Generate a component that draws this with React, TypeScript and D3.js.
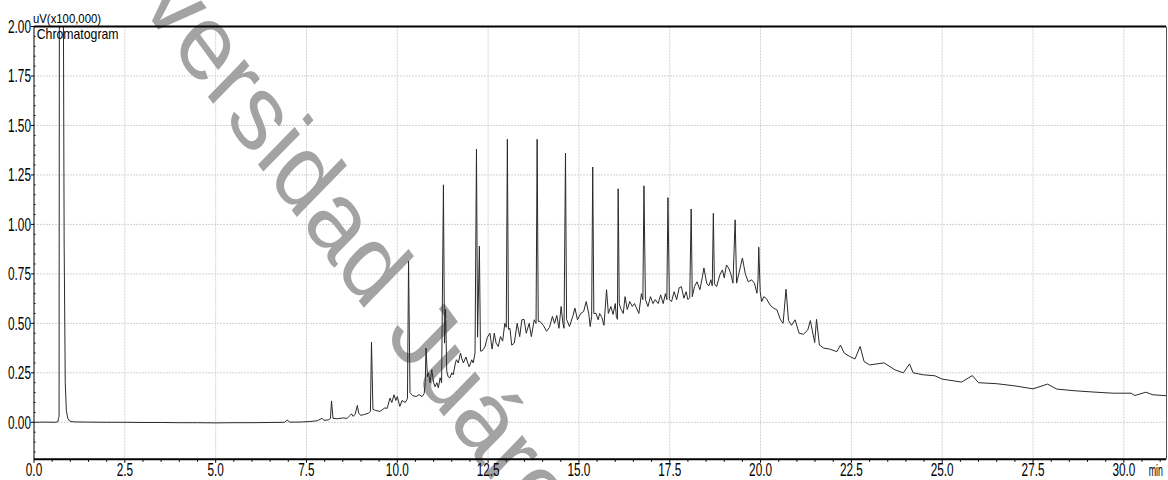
import React from 'react';
import * as d3 from 'd3';

// chart size and plot frame (pixels)
const W = 1168;
const H = 480;
const plot = { left: 34, right: 1166, top: 26.5, bottom: 459.3 };

// axis ticks
const xTickValues = [0, 2.5, 5, 7.5, 10, 12.5, 15, 17.5, 20, 22.5, 25, 27.5, 30];
const yTickValues = [0, 0.25, 0.5, 0.75, 1.0, 1.25, 1.5, 1.75, 2.0];
const xDomain: [number, number] = [0, 31.16];
const yDomain: [number, number] = [-0.187, 2.0];

// trace: [retention time (min), signal (uV x100,000)]
const solventFront: [number, number][] = [
  [0.0, 0.0], [0.3, 0.001], [0.6, 0.0], [0.66, 0.004], [0.675, 0.02], [0.69, 0.03],
  [0.7, 2.6], [0.8, 2.6], [0.83, 0.9], [0.86, 0.2], [0.89, 0.06], [0.93, 0.02],
  [0.98, 0.006], [1.1, 0.002], [1.5, 0.001], [2.0, 0.0], [2.5, 0.0], [3.0, -0.001],
  [3.5, -0.001], [4.0, -0.002], [4.5, -0.002], [5.0, -0.003], [5.5, -0.002], [6.0, -0.002],
  [6.5, -0.001], [6.9, 0.0], [6.97, 0.012], [7.03, 0.001], [7.3, 0.001], [7.6, 0.004],
  [7.8, 0.008], [7.93, 0.02], [7.98, 0.01],
];

const earlyPeaks: [number, number][] = [
  [8.1, 0.012], [8.16, 0.02], [8.19, 0.108], [8.23, 0.02], [8.35, 0.018], [8.5, 0.022],
  [8.62, 0.02], [8.7, 0.035], [8.74, 0.043], [8.78, 0.03], [8.84, 0.04], [8.9, 0.085],
  [8.94, 0.045], [9.0, 0.035], [9.1, 0.04], [9.2, 0.045], [9.26, 0.055], [9.29, 0.405],
  [9.33, 0.065], [9.4, 0.06], [9.52, 0.055], [9.6, 0.065], [9.66, 0.073], [9.72, 0.07],
  [9.8, 0.122], [9.85, 0.1], [9.91, 0.139], [9.96, 0.11], [10.0, 0.13], [10.07, 0.08],
  [10.13, 0.11], [10.22, 0.1], [10.28, 0.12], [10.31, 0.815], [10.35, 0.15], [10.42, 0.135],
  [10.52, 0.13], [10.6, 0.14], [10.68, 0.13], [10.74, 0.145], [10.77, 0.2], [10.79, 0.375],
  [10.83, 0.23], [10.86, 0.25], [10.9, 0.2], [10.95, 0.265], [11.0, 0.2], [11.04, 0.18],
  [11.09, 0.2], [11.13, 0.174], [11.18, 0.225], [11.22, 0.2], [11.27, 1.2], [11.3, 0.4],
  [11.33, 0.57], [11.36, 0.26], [11.4, 0.23], [11.45, 0.225], [11.5, 0.25], [11.54, 0.24],
  [11.6, 0.3], [11.63, 0.316], [11.68, 0.3], [11.74, 0.35], [11.78, 0.32], [11.82, 0.3],
  [11.89, 0.33], [11.94, 0.3], [11.98, 0.28], [12.05, 0.316], [12.09, 0.3], [12.14, 0.35],
  [12.18, 1.38], [12.21, 0.43], [12.26, 0.89], [12.29, 0.36], [12.33, 0.36], [12.41, 0.38],
  [12.48, 0.43], [12.55, 0.45], [12.61, 0.37], [12.67, 0.45], [12.72, 0.4], [12.78, 0.383],
  [12.84, 0.433], [12.9, 0.41], [12.96, 0.5], [13.0, 0.48],
];

const midPeaks: [number, number][] = [
  [13.03, 1.43], [13.06, 0.47], [13.1, 0.475], [13.15, 0.39], [13.22, 0.4], [13.3, 0.5],
  [13.37, 0.433], [13.43, 0.518], [13.49, 0.52], [13.55, 0.45], [13.63, 0.5], [13.69, 0.433],
  [13.77, 0.518], [13.82, 0.5], [13.85, 1.43], [13.88, 0.51], [13.93, 0.51], [14.02, 0.49],
  [14.11, 0.46], [14.19, 0.48], [14.27, 0.535], [14.33, 0.5], [14.39, 0.54], [14.45, 0.475],
  [14.51, 0.585], [14.56, 0.5], [14.59, 0.475], [14.63, 1.36], [14.66, 0.52], [14.74, 0.484],
  [14.83, 0.535], [14.89, 0.577], [14.96, 0.518], [15.05, 0.55], [15.13, 0.56], [15.2, 0.61],
  [15.27, 0.55], [15.31, 0.484], [15.35, 0.535], [15.38, 1.29], [15.41, 0.55], [15.47, 0.55],
  [15.53, 0.518], [15.57, 0.55], [15.63, 0.53], [15.69, 0.49], [15.76, 0.67], [15.81, 0.55],
  [15.88, 0.585], [15.94, 0.545], [16.0, 0.6], [16.03, 0.535], [16.06, 0.52], [16.08, 1.18],
  [16.11, 0.6], [16.15, 0.575], [16.22, 0.55], [16.27, 0.635], [16.33, 0.57], [16.4, 0.61],
  [16.47, 0.585], [16.53, 0.6], [16.65, 0.55], [16.72, 0.65], [16.76, 0.62], [16.79, 1.195],
  [16.83, 0.62], [16.9, 0.585], [16.97, 0.635], [17.04, 0.6], [17.1, 0.62], [17.18, 0.6],
  [17.25, 0.644], [17.32, 0.6], [17.38, 0.65], [17.42, 0.62], [17.45, 1.135], [17.49, 0.62],
];

const latePeaks: [number, number][] = [
  [17.55, 0.61], [17.62, 0.66], [17.69, 0.62], [17.76, 0.68], [17.82, 0.685], [17.89, 0.627],
  [17.95, 0.66], [18.0, 0.62], [18.05, 0.63], [18.09, 1.078], [18.12, 0.635], [18.18, 0.685],
  [18.25, 0.71], [18.33, 0.67], [18.4, 0.736], [18.44, 0.78], [18.52, 0.7], [18.58, 0.69],
  [18.63, 0.72], [18.67, 0.69], [18.7, 1.056], [18.73, 0.7], [18.79, 0.686], [18.88, 0.745],
  [18.95, 0.77], [19.0, 0.73], [19.06, 0.795], [19.12, 0.78], [19.18, 0.75], [19.24, 0.703],
  [19.3, 1.023], [19.34, 0.703], [19.4, 0.75], [19.5, 0.83], [19.58, 0.75], [19.66, 0.71],
  [19.75, 0.72], [19.83, 0.703], [19.9, 0.652], [19.93, 0.72], [19.95, 0.885], [19.99, 0.66],
  [20.03, 0.61], [20.09, 0.635], [20.16, 0.625], [20.26, 0.593], [20.35, 0.578], [20.45, 0.568],
  [20.55, 0.518], [20.62, 0.5], [20.7, 0.672], [20.77, 0.514], [20.85, 0.49], [20.95, 0.518],
  [21.06, 0.45], [21.18, 0.445], [21.3, 0.467], [21.37, 0.514], [21.49, 0.403], [21.54, 0.52],
  [21.62, 0.39],
];

const tailTrace: [number, number][] = [
  [21.74, 0.375], [21.9, 0.37], [22.1, 0.357], [22.2, 0.39], [22.3, 0.35], [22.45, 0.333],
  [22.6, 0.32], [22.74, 0.383], [22.85, 0.307], [23.0, 0.29], [23.2, 0.295], [23.4, 0.3],
  [23.7, 0.265], [23.93, 0.25], [24.1, 0.295], [24.2, 0.25], [24.48, 0.24], [24.8, 0.235],
  [25.0, 0.218], [25.3, 0.21], [25.53, 0.203], [25.83, 0.236], [26.0, 0.2], [26.5, 0.195],
  [27.0, 0.184], [27.5, 0.169], [27.9, 0.193], [28.15, 0.168], [28.6, 0.16], [29.15, 0.153],
  [29.7, 0.147], [30.2, 0.147], [30.3, 0.135], [30.6, 0.152], [30.8, 0.139], [31.2, 0.134],
];

const trace = [...solventFront, ...earlyPeaks, ...midPeaks, ...latePeaks, ...tailTrace];

const font = "'Liberation Sans', Arial, sans-serif";

// narrow text: natural font squeezed horizontally
const Narrow = ({ x, y, sx, size, anchor = 'start', children }: any) => (
  <text
    transform={`translate(${x},${y}) scale(${sx},1)`}
    fontFamily={font}
    fontSize={size}
    textAnchor={anchor}
    fill="#000"
  >
    {children}
  </text>
);

export default function App() {
  const x = d3.scaleLinear().domain(xDomain).range([plot.left, plot.right]);
  const y = d3.scaleLinear().domain(yDomain).range([plot.bottom, plot.top]);

  const line = d3.line<[number, number]>()
    .x(d => x(d[0]))
    .y(d => y(d[1]));

  const xMinor = d3.range(0, 31.01, 0.5);
  const yMinor = d3.range(-0.15, 2.001, 0.05);

  return (
    <svg width={W} height={H} style={{ position: 'absolute', left: 0, top: 0, background: '#fff' }}>
      <defs>
        <clipPath id="plot-clip">
          <rect x={plot.left} y={plot.top} width={plot.right - plot.left} height={plot.bottom - plot.top} />
        </clipPath>
      </defs>

      {/* grid */}
      <g stroke="#d2d2d2" strokeWidth={1} strokeDasharray="2,1">
        {xTickValues.filter(v => v > 0).map(v => (
          <line key={'gx' + v} x1={x(v)} x2={x(v)} y1={plot.top} y2={plot.bottom} />
        ))}
        {yTickValues.filter(v => v < 2).map(v => (
          <line key={'gy' + v} x1={plot.left} x2={plot.right} y1={y(v)} y2={y(v)} />
        ))}
      </g>

      {/* watermark, spills over the frame like the scanned original */}
      <text
        transform="translate(49.8,-117.3) scale(0.85,1) rotate(49)"
        fontFamily={font}
        fontSize={108}
        fill="#a3a3a3"
      >
        Universidad Juárez
      </text>

      {/* chromatogram */}
      <path
        d={line(trace) ?? ''}
        fill="none"
        stroke="#2a2a2a"
        strokeWidth={1}
        clipPath="url(#plot-clip)"
      />

      {/* frame */}
      <line x1={plot.left} x2={plot.right} y1={plot.top} y2={plot.top} stroke="#000" strokeWidth={2} />
      <line x1={plot.left} x2={plot.right} y1={plot.bottom} y2={plot.bottom} stroke="#000" strokeWidth={2} />
      <line x1={plot.left} x2={plot.left} y1={plot.top} y2={plot.bottom} stroke="#000" strokeWidth={1} />
      <line x1={plot.right + 0.5} x2={plot.right + 0.5} y1={plot.top} y2={plot.bottom} stroke="#555" strokeWidth={1} />

      {/* ticks */}
      <g stroke="#000" strokeWidth={1}>
        {xMinor.map(v => (
          <line key={'xm' + v} x1={x(v)} x2={x(v)} y1={plot.bottom} y2={plot.bottom + (v % 2.5 === 0 ? 3.5 : 2.5)} />
        ))}
        {yMinor.map(v => {
          const major = Math.abs(v / 0.25 - Math.round(v / 0.25)) < 1e-6;
          return (
            <line key={'ym' + v} x1={plot.left - (major ? 3 : 0)} x2={plot.left + (major ? 0 : 1.5)} y1={y(v)} y2={y(v)} />
          );
        })}
      </g>

      {/* y tick labels */}
      {yTickValues.map(v => (
        <Narrow key={'yl' + v} x={plot.left - 3} y={y(v) + 6.5} sx={0.657} size={18} anchor="end">
          {v.toFixed(2)}
        </Narrow>
      ))}

      {/* x tick labels */}
      {xTickValues.map(v => (
        <Narrow key={'xl' + v} x={x(v)} y={476} sx={0.62} size={19} anchor="middle">
          {v.toFixed(1)}
        </Narrow>
      ))}
      <Narrow x={1163} y={476} sx={0.52} size={17} anchor="end">min</Narrow>

      {/* titles */}
      <Narrow x={33} y={22.5} sx={0.907} size={12.5}>uV(x100,000)</Narrow>
      <Narrow x={36.7} y={39.3} sx={0.878} size={14}>Chromatogram</Narrow>
    </svg>
  );
}
